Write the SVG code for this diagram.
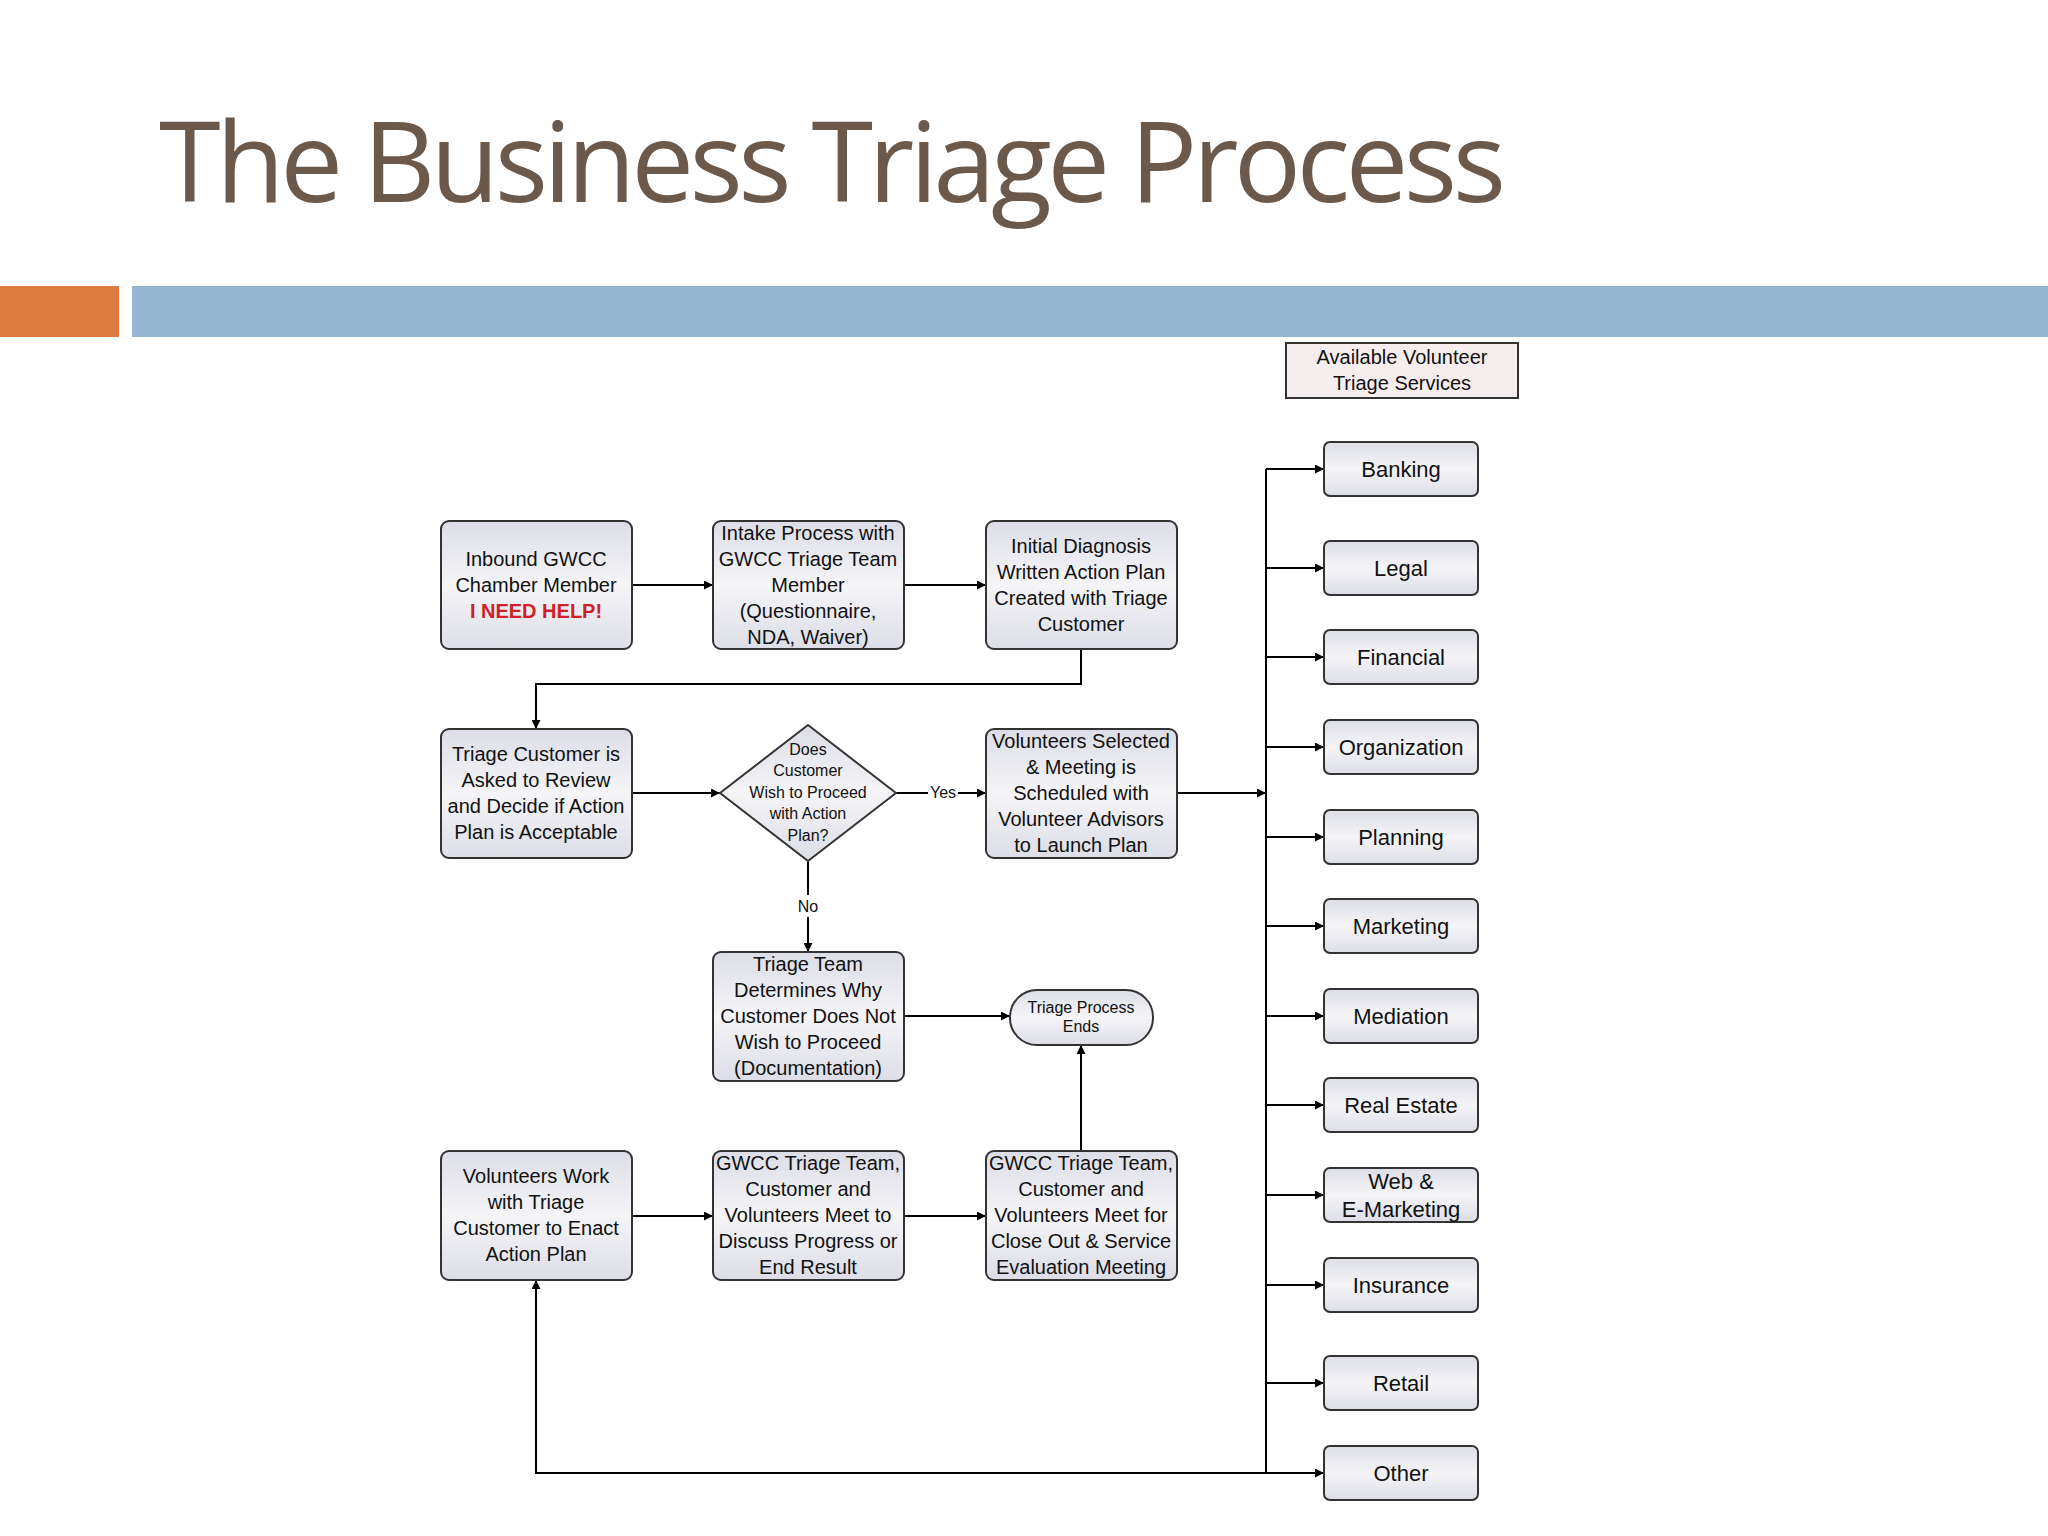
<svg xmlns="http://www.w3.org/2000/svg" width="2048" height="1536" viewBox="0 0 2048 1536">
<defs>
<linearGradient id="g" x1="0" y1="0" x2="0" y2="1"><stop offset="0" stop-color="#dcdde6"/><stop offset="0.5" stop-color="#f5f5f8"/><stop offset="1" stop-color="#dcdde6"/></linearGradient>
<marker id="a" viewBox="0 0 10 10" refX="10" refY="5" markerWidth="9" markerHeight="9" orient="auto" markerUnits="userSpaceOnUse"><path d="M0,0L10,5L0,10z" fill="#000"/></marker>
</defs>
<style>
.b{fill:url(#g);stroke:#333;stroke-width:2}
.t{font-family:"Liberation Sans",Arial,sans-serif;font-size:20px;fill:#111;text-anchor:middle;dominant-baseline:central}
.s{font-size:22px}
.d{font-size:16px}
.c path{fill:none;stroke:#000;stroke-width:2;marker-end:url(#a)}
.c .n{marker-end:none}
</style>
<rect width="2048" height="1536" fill="#fff"/>
<text x="159" y="202" font-family="'Open Sans','Liberation Sans',sans-serif" font-size="112" fill="#6b5a4c" textLength="1347">The Business Triage Process</text>
<rect x="0" y="286" width="119" height="51" fill="#e07b3f"/>
<rect x="132" y="286" width="1916" height="51" fill="#94b6d2"/>

<g class="c">
<path d="M632,585H713"/><path d="M904,585H986"/>
<path d="M1081,649V684H536V729"/>
<path d="M632,793H720"/>
<path class="n" d="M896,793H928"/><path d="M958,793H986"/>
<path class="n" d="M808,861V895"/><path d="M808,917V952"/>
<path d="M904,1016H1010"/>
<path d="M1081,1151V1045"/>
<path d="M632,1216H713"/><path d="M904,1216H986"/>
<path d="M1177,793H1266"/>
<path class="n" d="M1266,469V1473"/>
<path d="M1266,1473H536V1280"/>
<path d="M1266,469H1324"/><path d="M1266,568H1324"/><path d="M1266,657H1324"/><path d="M1266,747H1324"/><path d="M1266,837H1324"/><path d="M1266,926H1324"/><path d="M1266,1016H1324"/><path d="M1266,1105H1324"/><path d="M1266,1195H1324"/><path d="M1266,1285H1324"/><path d="M1266,1383H1324"/><path d="M1266,1473H1324"/>
<text class="t d" x="943" y="792">Yes</text>
<text class="t d" x="808" y="906">No</text>
</g>

<g id="inbound"><rect class="b" x="441" y="521" width="191" height="128" rx="8"/>
<text class="t"><tspan x="536" y="559">Inbound GWCC</tspan><tspan x="536" y="585">Chamber Member</tspan><tspan x="536" y="611" fill="#d0202a" font-weight="bold">I NEED HELP!</tspan></text></g>
<g id="intake"><rect class="b" x="713" y="521" width="191" height="128" rx="8"/>
<text class="t"><tspan x="808" y="533">Intake Process with</tspan><tspan x="808" y="559">GWCC Triage Team</tspan><tspan x="808" y="585">Member</tspan><tspan x="808" y="611">(Questionnaire,</tspan><tspan x="808" y="637">NDA, Waiver)</tspan></text></g>
<g id="diagnosis"><rect class="b" x="986" y="521" width="191" height="128" rx="8"/>
<text class="t"><tspan x="1081" y="546">Initial Diagnosis</tspan><tspan x="1081" y="572">Written Action Plan</tspan><tspan x="1081" y="598">Created with Triage</tspan><tspan x="1081" y="624">Customer</tspan></text></g>
<g id="review"><rect class="b" x="441" y="729" width="191" height="129" rx="8"/>
<text class="t"><tspan x="536" y="754">Triage Customer is</tspan><tspan x="536" y="780">Asked to Review</tspan><tspan x="536" y="806">and Decide if Action</tspan><tspan x="536" y="832">Plan is Acceptable</tspan></text></g>
<g id="decision"><path class="b" d="M808,725L896,793L808,861L720,793Z" stroke-linejoin="round"/>
<text class="t d"><tspan x="808" y="749">Does</tspan><tspan x="808" y="770">Customer</tspan><tspan x="808" y="792">Wish to Proceed</tspan><tspan x="808" y="813">with Action</tspan><tspan x="808" y="835">Plan?</tspan></text></g>
<g id="selected"><rect class="b" x="986" y="729" width="191" height="129" rx="8"/>
<text class="t"><tspan x="1081" y="741">Volunteers Selected</tspan><tspan x="1081" y="767">&amp; Meeting is</tspan><tspan x="1081" y="793">Scheduled with</tspan><tspan x="1081" y="819">Volunteer Advisors</tspan><tspan x="1081" y="845">to Launch Plan</tspan></text></g>
<g id="why"><rect class="b" x="713" y="952" width="191" height="129" rx="8"/>
<text class="t"><tspan x="808" y="964">Triage Team</tspan><tspan x="808" y="990">Determines Why</tspan><tspan x="808" y="1016">Customer Does Not</tspan><tspan x="808" y="1042">Wish to Proceed</tspan><tspan x="808" y="1068">(Documentation)</tspan></text></g>
<g id="ends"><rect class="b" x="1010" y="990" width="143" height="55" rx="27"/>
<text class="t d"><tspan x="1081" y="1007">Triage Process</tspan><tspan x="1081" y="1026">Ends</tspan></text></g>
<g id="work"><rect class="b" x="441" y="1151" width="191" height="129" rx="8"/>
<text class="t"><tspan x="536" y="1176">Volunteers Work</tspan><tspan x="536" y="1202">with Triage</tspan><tspan x="536" y="1228">Customer to Enact</tspan><tspan x="536" y="1254">Action Plan</tspan></text></g>
<g id="progress"><rect class="b" x="713" y="1151" width="191" height="129" rx="8"/>
<text class="t"><tspan x="808" y="1163">GWCC Triage Team,</tspan><tspan x="808" y="1189">Customer and</tspan><tspan x="808" y="1215">Volunteers Meet to</tspan><tspan x="808" y="1241">Discuss Progress or</tspan><tspan x="808" y="1267">End Result</tspan></text></g>
<g id="closeout"><rect class="b" x="986" y="1151" width="191" height="129" rx="8"/>
<text class="t"><tspan x="1081" y="1163">GWCC Triage Team,</tspan><tspan x="1081" y="1189">Customer and</tspan><tspan x="1081" y="1215">Volunteers Meet for</tspan><tspan x="1081" y="1241">Close Out &amp; Service</tspan><tspan x="1081" y="1267">Evaluation Meeting</tspan></text></g>

<g id="services"><rect x="1286" y="343" width="232" height="55" fill="#f6eeee" stroke="#333" stroke-width="2"/>
<text class="t"><tspan x="1402" y="357">Available Volunteer</tspan><tspan x="1402" y="383">Triage Services</tspan></text></g>
<g id="banking"><rect class="b" x="1324" y="442" width="154" height="54" rx="6"/><text class="t s" x="1401" y="469">Banking</text></g>
<g id="legal"><rect class="b" x="1324" y="541" width="154" height="54" rx="6"/><text class="t s" x="1401" y="568">Legal</text></g>
<g id="financial"><rect class="b" x="1324" y="630" width="154" height="54" rx="6"/><text class="t s" x="1401" y="657">Financial</text></g>
<g id="organization"><rect class="b" x="1324" y="720" width="154" height="54" rx="6"/><text class="t s" x="1401" y="747">Organization</text></g>
<g id="planning"><rect class="b" x="1324" y="810" width="154" height="54" rx="6"/><text class="t s" x="1401" y="837">Planning</text></g>
<g id="marketing"><rect class="b" x="1324" y="899" width="154" height="54" rx="6"/><text class="t s" x="1401" y="926">Marketing</text></g>
<g id="mediation"><rect class="b" x="1324" y="989" width="154" height="54" rx="6"/><text class="t s" x="1401" y="1016">Mediation</text></g>
<g id="realestate"><rect class="b" x="1324" y="1078" width="154" height="54" rx="6"/><text class="t s" x="1401" y="1105">Real Estate</text></g>
<g id="web"><rect class="b" x="1324" y="1168" width="154" height="54" rx="6"/><text class="t s"><tspan x="1401" y="1181">Web &amp;</tspan><tspan x="1401" y="1209">E-Marketing</tspan></text></g>
<g id="insurance"><rect class="b" x="1324" y="1258" width="154" height="54" rx="6"/><text class="t s" x="1401" y="1285">Insurance</text></g>
<g id="retail"><rect class="b" x="1324" y="1356" width="154" height="54" rx="6"/><text class="t s" x="1401" y="1383">Retail</text></g>
<g id="other"><rect class="b" x="1324" y="1446" width="154" height="54" rx="6"/><text class="t s" x="1401" y="1473">Other</text></g>
</svg>
